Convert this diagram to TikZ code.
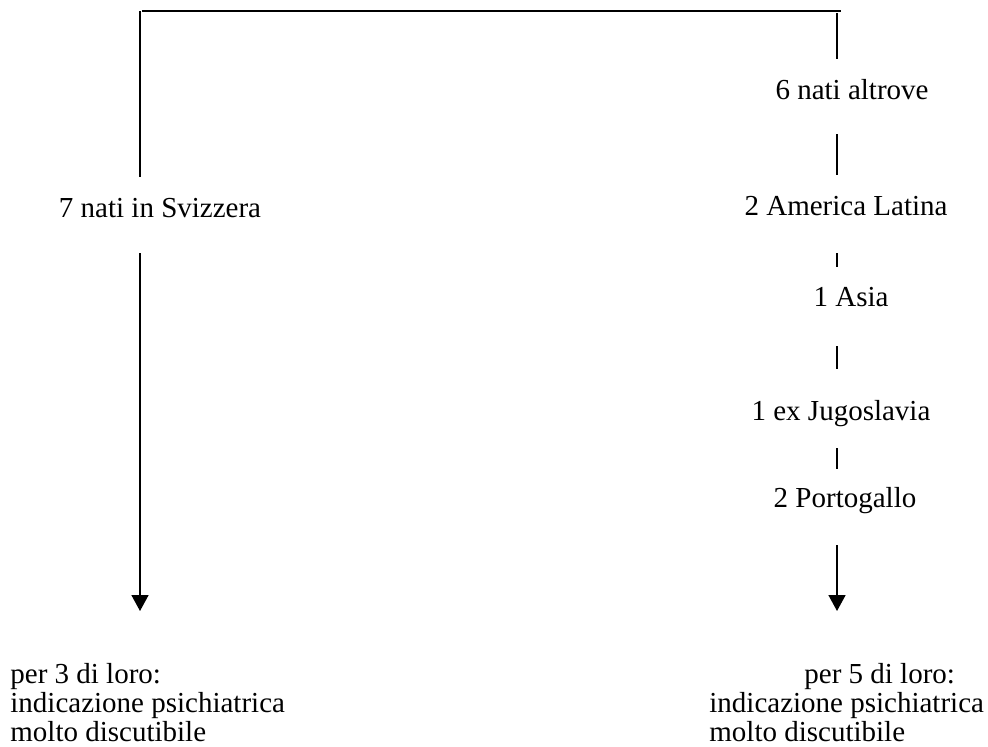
\documentclass[tikz,border=0pt]{standalone}
\usepackage{fontspec}
\setmainfont{Liberation Serif}
\usetikzlibrary{arrows.meta}

\begin{document}
\begin{tikzpicture}[x=0.5pt,y=-0.5pt,
    txt/.style={inner sep=0pt,anchor=base,text height=10pt,text depth=3pt,
        font=\fontsize{14.5pt}{14.5pt}\selectfont},
    blk/.style={inner sep=0pt,anchor=north west,align=left,
        font=\fontsize{14.5pt}{14.5pt}\selectfont},
    seg/.style={line width=0.7pt},
    arr/.style={line width=0.8pt,-{Triangle[length=8pt,width=8.5pt]}}
  ]
    \useasboundingbox (0,0) rectangle (988,746);

    \coordinate (topL) at (140,11);
    \coordinate (topR) at (837,11);

    \node[txt] (svizzera) at (160,217) {7 nati in Svizzera};
    \node[txt] (altrove) at (852,99) {6 nati altrove};
    \node[txt] (latina) at (846,215) {2 America Latina};
    \node[txt] (asia) at (851,306) {1 Asia};
    \node[txt] (jugo) at (841,420) {1 ex Jugoslavia};
    \node[txt] (portogallo) at (845,507) {2 Portogallo};

    \node[blk] (loroL) at (10,663) {per 3 di loro:\\indicazione psichiatrica\\molto discutibile};
    \node[blk] (loroR) at (709,663) {\hspace*{47.5pt}per 5 di loro:\\indicazione psichiatrica\\molto discutibile};

    % top bracket
    \draw[line width=1.2pt] ([xshift=1pt]topL) -- ([xshift=2pt]topR);
    \draw[seg,shorten >=10pt] (topL) -- (topL |- svizzera.north);
    \draw[seg,shorten <=1pt,shorten >=10pt] (topR) -- (topR |- altrove.north);

    % right column
    \draw[seg,shorten <=14.5pt,shorten >=10pt] (topR |- altrove.south) -- (topR |- latina.north);
    \draw[seg,shorten <=16pt,shorten >=9.5pt] (topR |- latina.south) -- (topR |- asia.north);
    \draw[seg,shorten <=17pt,shorten >=15.5pt] (topR |- asia.south) -- (topR |- jugo.north);
    \draw[seg,shorten <=11pt,shorten >=9pt] (topR |- jugo.south) -- (topR |- portogallo.north);

    \draw[arr,shorten <=16pt,shorten >=26pt] (topR |- portogallo.south) -- (topR |- loroR.north);
    \draw[arr,shorten <=15pt,shorten >=26pt] (topL |- svizzera.south) -- (topL |- loroL.north);

\end{tikzpicture}
\end{document}
